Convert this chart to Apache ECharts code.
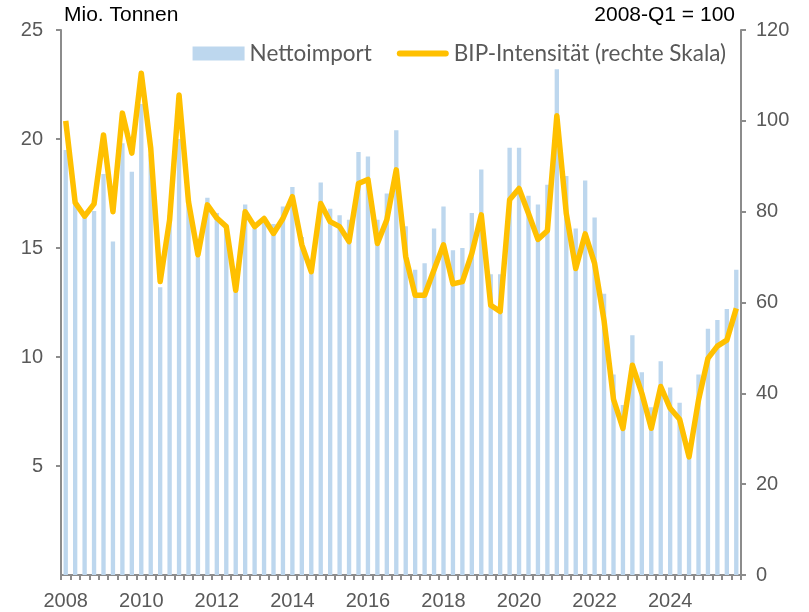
<!DOCTYPE html>
<html>
<head>
<meta charset="utf-8">
<script src="https://cdn.jsdelivr.net/npm/echarts@6/dist/echarts.min.js"></script>
<style>html,body{margin:0;padding:0;background:#fff}#c{width:809px;height:612px}</style>
</head>
<body>
<div id="c"></div>
<script>
// Quarters 2008-Q1 .. 2025-Q4
const years = [];
for (let y = 2008; y <= 2025; y++) years.push(y);
const categories = [];
years.forEach(y => ['Q1','Q2','Q3','Q4'].forEach(q => categories.push(y + '-' + q)));

// Nettoimport, Mio. Tonnen (left axis)
const nettoimport = [
  19.5, 17.0, 16.4, 16.7, 18.4, 15.3, 19.8, 18.5,
  21.6, 19.3, 13.2, 16.5, 20.0, 17.0, 14.6, 17.3,
  16.6, 16.0, 13.0, 17.0, 15.9, 16.4, 16.1, 16.9,
  17.8, 15.5, 14.0, 18.0, 16.8, 16.5, 16.3, 19.4,
  19.2, 16.3, 17.5, 20.4, 16.0, 14.0, 14.3, 15.9,
  16.9, 14.9, 15.0, 16.6, 18.6, 13.8, 13.8, 19.6,
  19.6, 17.4, 17.0, 17.9, 23.2, 18.3, 15.9, 18.1,
  16.4, 12.9, 9.2, 7.8, 11.0, 9.3, 7.7, 9.8,
  8.6, 7.9, 6.0, 9.2, 11.3, 11.7, 12.2, 14.0
];

// BIP-Intensität, 2008-Q1 = 100 (right axis)
const intensitaet = [
  100.0, 82.0, 79.0, 81.7, 96.9, 80.0, 101.7, 92.9,
  110.5, 94.0, 64.6, 78.2, 105.7, 82.2, 70.5, 81.5,
  78.6, 76.7, 62.7, 80.0, 76.7, 78.5, 75.2, 78.5,
  83.3, 72.7, 66.8, 81.8, 77.8, 76.7, 73.4, 86.2,
  87.1, 73.0, 78.2, 89.2, 70.1, 61.6, 61.6, 67.2,
  72.7, 64.1, 64.6, 70.8, 79.3, 59.4, 58.0, 82.6,
  85.1, 79.6, 73.9, 75.8, 101.1, 79.6, 67.5, 75.1,
  68.6, 56.0, 38.7, 32.3, 46.2, 40.0, 32.3, 41.5,
  36.7, 34.3, 26.0, 38.5, 47.7, 50.4, 51.7, 58.7
];

const leftTicks = { min: 0, max: 25, interval: 5 };
const rightTicks = { min: 0, max: 120, interval: 20 };

const axisGrey = '#8c8c8c';
const labelGrey = '#595959';
const tickFont = '"Liberation Sans", Arial, sans-serif';

const chart = echarts.init(document.getElementById('c'), null, { renderer: 'canvas' });
chart.setOption({
  animation: false,
  backgroundColor: '#fff',
  title: [
    { text: 'Mio. Tonnen', left: 59, top: 0, textStyle: { fontFamily: tickFont, fontSize: 21, fontWeight: 'normal', color: '#000' } },
    { text: '2008-Q1 = 100', right: 69, top: 0, textStyle: { fontFamily: tickFont, fontSize: 21, fontWeight: 'normal', color: '#000' } }
  ],
  legend: {
    top: 37,
    right: 78,
    itemGap: 25,
    itemWidth: 52,
    itemHeight: 14,
    textStyle: { fontFamily: 'Lato, sans-serif', fontSize: 22.5, color: labelGrey },
    data: [
      { name: 'Nettoimport', icon: 'rect' },
      { name: 'BIP-Intensität (rechte Skala)', icon: 'path://M0,0 M52,14 M3,4 L49,4 A3,3 0 0 1 49,10 L3,10 A3,3 0 0 1 3,4 Z' }
    ]
  },
  grid: { left: 61, right: 68, top: 30, bottom: 37 },
  xAxis: {
    type: 'category',
    data: categories,
    boundaryGap: true,
    axisLine: { lineStyle: { color: axisGrey, width: 2 } },
    axisTick: { show: true, interval: 0, length: 5, lineStyle: { color: axisGrey, width: 2 } },
    axisLabel: {
      interval: (idx, val) => val.endsWith('Q1') && (parseInt(val) % 2 === 0),
      formatter: v => v.slice(0, 4),
      fontFamily: tickFont, fontSize: 20, color: labelGrey, margin: 16
    },
    splitLine: { show: false }
  },
  yAxis: [
    {
      type: 'value', position: 'left',
      min: leftTicks.min, max: leftTicks.max, interval: leftTicks.interval,
      axisLine: { show: true, lineStyle: { color: axisGrey, width: 2 } },
      axisTick: { show: true, length: 5, lineStyle: { color: axisGrey, width: 2 } },
      axisLabel: { showMinLabel: false, fontFamily: tickFont, fontSize: 20, color: labelGrey, margin: 18 },
      splitLine: { show: false }
    },
    {
      type: 'value', position: 'right',
      min: rightTicks.min, max: rightTicks.max, interval: rightTicks.interval,
      axisLine: { show: true, lineStyle: { color: axisGrey, width: 2 } },
      axisTick: { show: true, length: 5, lineStyle: { color: axisGrey, width: 2 } },
      axisLabel: { fontFamily: tickFont, fontSize: 20, color: labelGrey, margin: 15 },
      splitLine: { show: false }
    }
  ],
  series: [
    {
      name: 'Nettoimport', type: 'bar', yAxisIndex: 0,
      data: nettoimport, barWidth: '46%',
      itemStyle: { color: '#BDD7EE' }
    },
    {
      name: 'BIP-Intensität (rechte Skala)', type: 'line', yAxisIndex: 1,
      data: intensitaet, symbol: 'none',
      lineStyle: { color: '#FFC000', width: 5.5, join: 'round' },
      itemStyle: { color: '#FFC000' }
    }
  ]
});
</script>
</body>
</html>
